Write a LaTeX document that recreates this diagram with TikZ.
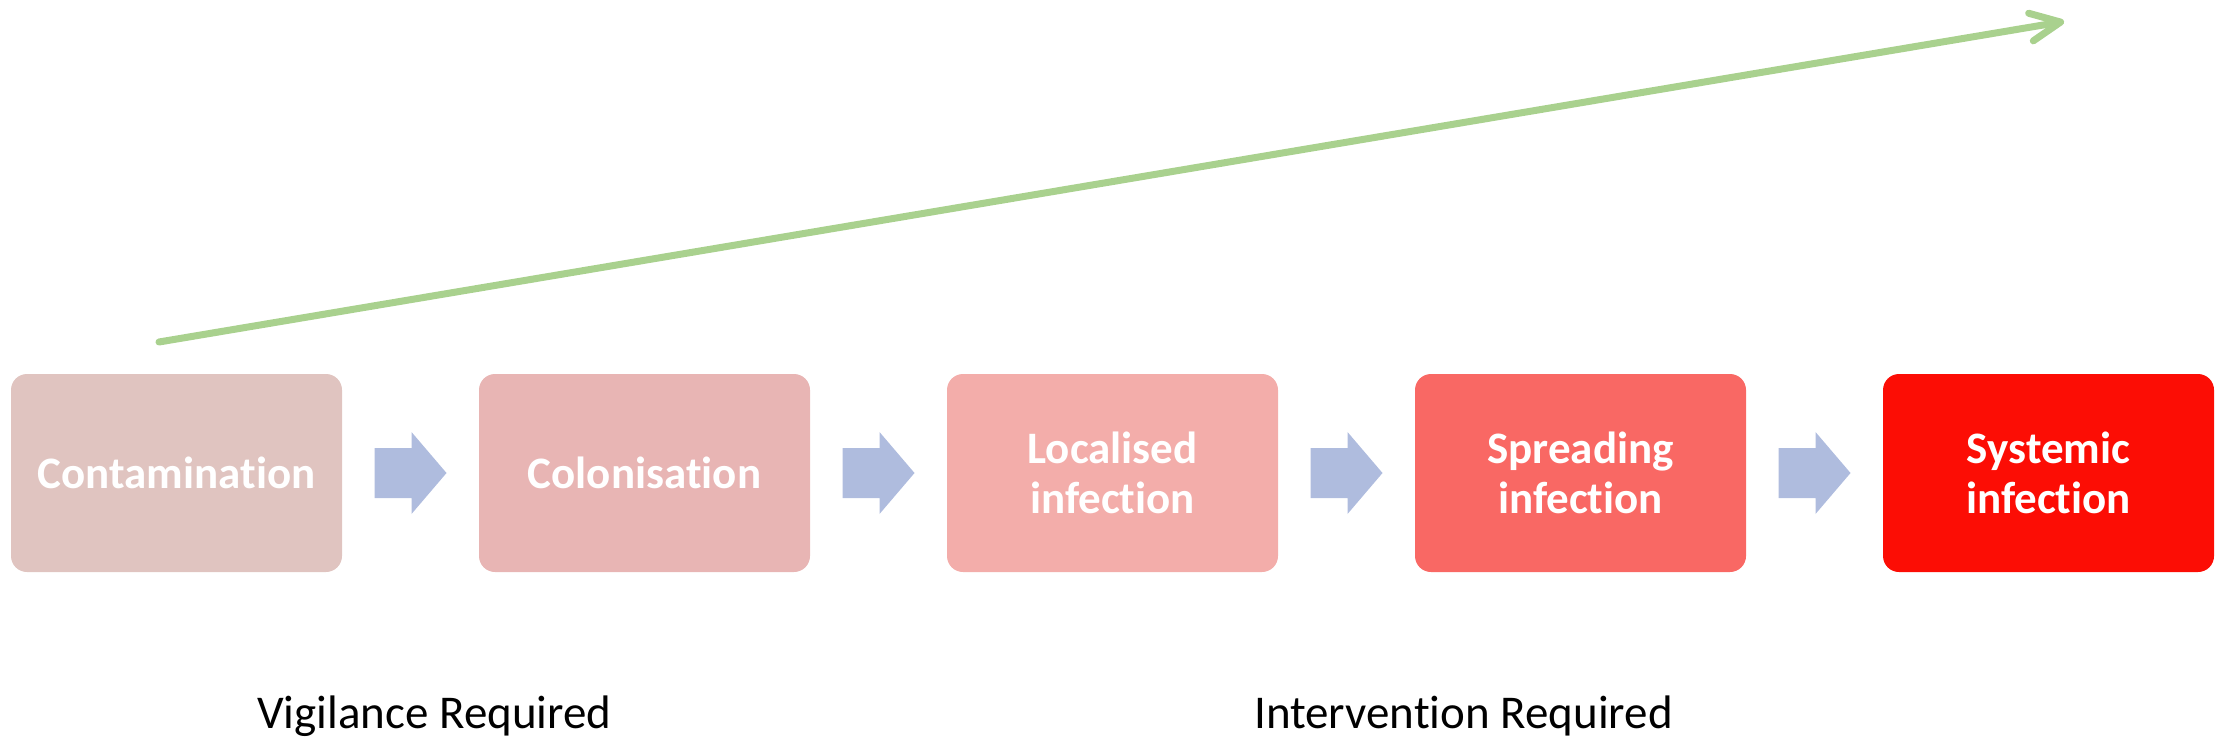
\documentclass[tikz,border=0pt]{standalone}
\usepackage{fontspec}
\setmainfont{Carlito}[Ligatures=NoCommon]
\usetikzlibrary{arrows.meta,calc}
\definecolor{cA}{HTML}{E0C4C0}
\definecolor{cB}{HTML}{E8B5B4}
\definecolor{cC}{HTML}{F3ADAA}
\definecolor{cD}{HTML}{F96864}
\definecolor{cE}{HTML}{FC0D05}
\definecolor{arrowblue}{HTML}{AFBCDE}
\definecolor{trendgreen}{HTML}{A9D18E}
\tikzset{
  stagebox/.style={rounded corners=16pt, minimum width=331pt, minimum height=198pt,
    inner sep=0pt, outer sep=0pt, text=white, align=center,
    font=\fontsize{45}{50}\selectfont\bfseries},
  bottomlabel/.style={anchor=base, inner sep=0pt, text=black,
    font=\fontsize{47}{52}\selectfont},
  trendline/.style={draw=trendgreen, line width=7pt, line cap=round,
    -{Straight Barb[length=30pt,width=28pt,round]}},
  blockarrow/.pic={\fill[arrowblue] (-36,-25) -- (1,-25) -- (1,-41) -- (36,0)
    -- (1,41) -- (1,25) -- (-36,25) -- cycle;}
}
\begin{document}
\begin{tikzpicture}[x=1pt,y=-1pt]
\useasboundingbox (0,0) rectangle (2223,744);
\node[stagebox, fill=cA] (b1) at (176.5,473) {Contamination};
\node[stagebox, fill=cB] (b2) at (644.5,473) {Colonisation};
\node[stagebox, fill=cC] (b3) at (1112.5,473) {Localised\\infection};
\node[stagebox, fill=cD] (b4) at (1580.5,473) {Spreading\\infection};
\node[stagebox, fill=cE] (b5) at (2048.5,473) {Systemic\\infection};
\path ($(b1.east)!0.5!(b2.west)$) pic {blockarrow};
\path ($(b2.east)!0.5!(b3.west)$) pic {blockarrow};
\path ($(b3.east)!0.5!(b4.west)$) pic {blockarrow};
\path ($(b4.east)!0.5!(b5.west)$) pic {blockarrow};
\coordinate (gs) at (159,342);
\coordinate (ge) at (2064,21.5);
\draw[trendline] (gs) -- (ge);
\node[bottomlabel] (vig) at (434.5,728) {Vigilance Required};
\node[bottomlabel] (int) at (1463.5,728) {Intervention Required};
\end{tikzpicture}
\end{document}
